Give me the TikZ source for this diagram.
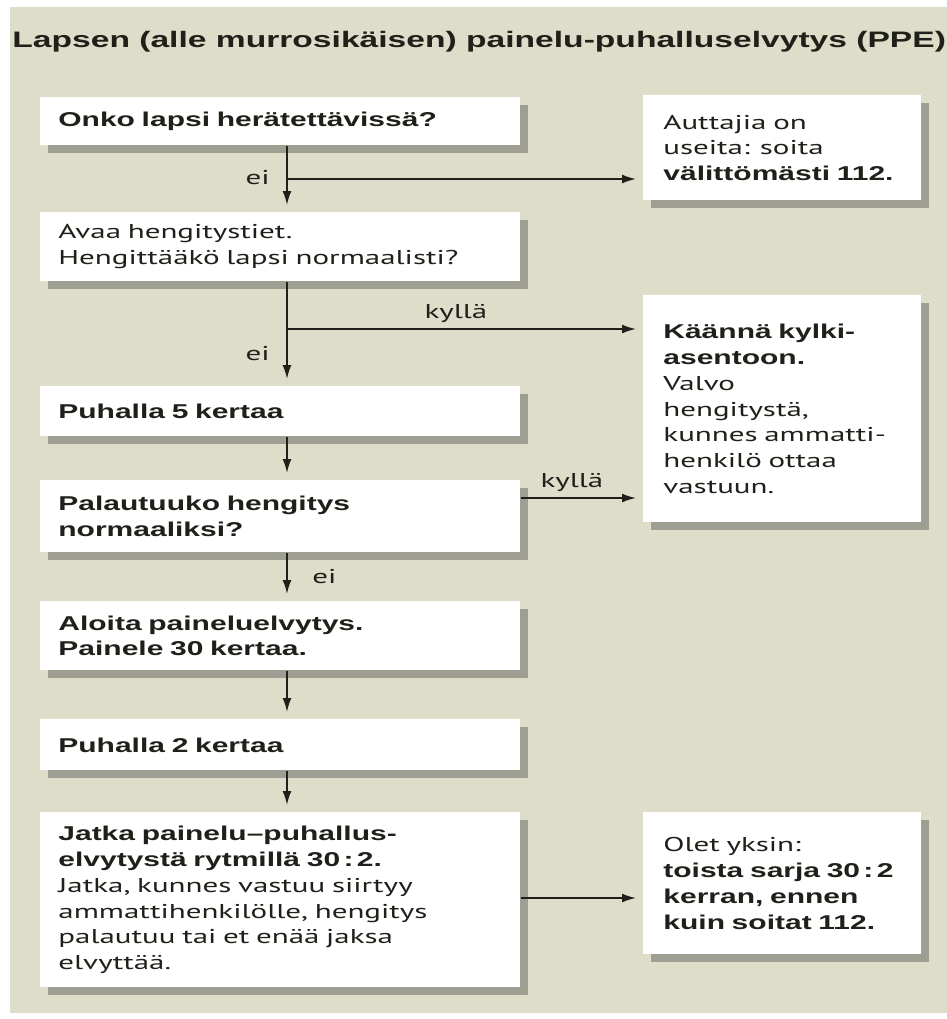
\documentclass[tikz,border=0pt]{standalone}
\usepackage{fontspec}
\usetikzlibrary{arrows.meta,positioning,shadows}
\newfontfamily\hfont[FakeStretch=1.5]{Liberation Sans}
\newfontfamily\mfont[FakeStretch=1.55]{PT Sans}
\definecolor{bgc}{RGB}{222,221,201}
\definecolor{ink}{RGB}{32,32,26}
\newcommand\fb{\hfont\bfseries}
\newcommand\fr{\mfont\mdseries}

\begin{document}
\begin{tikzpicture}[x=.5pt,y=-.5pt,
  box/.style={fill=white,anchor=north west,align=left,inner ysep=0pt,text=ink,font=\fontsize{10}{12.9}\selectfont,
    drop shadow={shadow xshift=4pt,shadow yshift=-4pt,opacity=.4,fill=black!75}},
  lbox/.style={box,inner xsep=9pt,text width=222pt},
  rbox/.style={box,inner xsep=10pt,text width=119pt},
  arr/.style={-{Latex[length=7pt,width=4.5pt]},line width=.85pt,draw=ink,shorten >=3.5pt},
  lbl/.style={font=\fr\fontsize{10}{12}\selectfont,text=ink,inner sep=0pt}]
\useasboundingbox (0,0) rectangle (947,1019);
\fill[bgc] (10,7) rectangle (947,1013);
\node[anchor=base west,inner sep=0pt,text=ink,font=\fb\fontsize{11.2}{13}\selectfont] (title) at (12,47) {Lapsen (alle murrosikäisen) painelu-puhalluselvytys (PPE)};
\node[lbox,minimum height=24pt] (onko) at (40,97) {\fb Onko lapsi herätettävissä?};
\node[lbox,minimum height=34.5pt] (avaa) at (40,212) {\fr Avaa hengitystiet.\\\fr Hengittääkö lapsi normaalisti?};
\node[lbox,minimum height=25pt] (puh5) at (40,386) {\fb Puhalla 5 kertaa};
\node[lbox,minimum height=36pt] (palaut) at (40,480) {\fb Palautuuko hengitys\\\fb normaaliksi?};
\node[lbox,minimum height=34.5pt] (aloita) at (40,601) {\fb Aloita paineluelvytys.\\\fb Painele 30 kertaa.};
\node[lbox,minimum height=25.5pt] (puh2) at (40,719) {\fb Puhalla 2 kertaa};
\node[lbox,minimum height=87.5pt] (jatka) at (40,812) {\fb Jatka painelu–puhallus-\\\fb elvytystä rytmillä 30\,:\,2.\\\fr Jatka, kunnes vastuu siirtyy\\\fr ammattihenkilölle, hengitys\\\fr palautuu tai et enää jaksa\\\fr elvyttää.};
\node[rbox,minimum height=52.5pt] (auttajia) at (643,95) {\fr Auttajia on\\\fr useita: soita\\\fb välittömästi 112.};
\node[rbox,minimum height=113.5pt] (kylki) at (643,295) {\fb Käännä kylki-\\\fb asentoon.\\\fr Valvo\\\fr hengitystä,\\\fr kunnes ammatti-\\\fr henkilö ottaa\\\fr vastuun.};
\node[rbox,minimum height=71pt] (yksin) at (643,812) {\fr Olet yksin:\\\fb toista sarja 30\,:\,2\\\fb kerran, ennen\\\fb kuin soitat 112.};
\coordinate (t1) at (287,179);\coordinate (t2) at (287,329);
\draw[arr] (onko.south-|t1) -- (avaa.north-|t1);\draw[arr] (t1) -- (t1-|auttajia.west);
\draw[arr] (avaa.south-|t1) -- (puh5.north-|t1);\draw[arr] (t2) -- (t2-|kylki.west);
\draw[arr] (puh5.south-|t1) -- (palaut.north-|t1);\draw[arr] (palaut.east|-0,498) -- (kylki.west|-0,498);
\draw[arr] (palaut.south-|t1) -- (aloita.north-|t1);
\draw[arr] (aloita.south-|t1) -- (puh2.north-|t1);
\draw[arr] (puh2.south-|t1) -- (jatka.north-|t1);\draw[arr] (jatka.east|-0,898) -- (yksin.west|-0,898);
\node[lbl,anchor=east] (ei1) at (270,178) {ei};\node[lbl,anchor=east] (ei2) at (270,354) {ei};
\node[lbl,anchor=west] (ei3) at (312,577) {ei};
\node[lbl,anchor=base] (kylla1) at (456,318) {kyllä};\node[lbl,anchor=base] (kylla2) at (572,487) {kyllä};
\end{tikzpicture}
\end{document}
